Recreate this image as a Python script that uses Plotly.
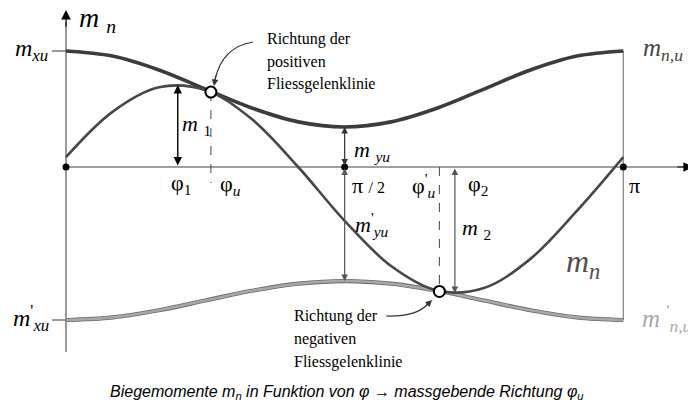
import plotly.graph_objects as go

phi_deg = [0, 15, 30, 45, 60, 75, 90, 105, 120, 135, 150, 165, 180]
m_nu = [1.000, 0.956, 0.836, 0.672, 0.509, 0.389, 0.345, 0.389, 0.509, 0.672, 0.836, 0.956, 1.000]
m_nu_neg = [-1.319, -1.296, -1.235, -1.151, -1.067, -1.006, -0.983, -1.006, -1.067, -1.151, -1.235, -1.296, -1.319]
m_n = [0.085, 0.475, 0.687, 0.664, 0.413, 0.000, -0.464, -0.854, -1.066, -1.043, -0.792, -0.379, 0.085]

m_xu, m_yu = 1.0, 0.345
m_xu_neg, m_yu_neg = -1.319, -0.983
phi_1, m_1 = 36.1, 0.707
phi_2, m_2 = 125.6, -1.086
phi_u, m_u = 46.8, 0.646
phi_u_neg, m_u_neg = 120.6, -1.073

# Seitenpixel -> Daten (nur fuer Beschriftungen); body hat 8px Rand
def X(px):
    return (px - 66) * 180 / 557.3

def Y(py):
    return (167 - py) / 116

SERIF = "serif"
DARK = "#3c3c3c"

fig = go.Figure()
fig.add_trace(go.Scatter(x=phi_deg, y=m_nu_neg, mode="lines", line=dict(color="#6a6a6a", width=4.2, shape="spline")))
fig.add_trace(go.Scatter(x=phi_deg, y=m_nu_neg, mode="lines", line=dict(color="#a8a8a8", width=2.6, shape="spline")))
fig.add_trace(go.Scatter(x=phi_deg, y=m_nu, mode="lines", line=dict(color=DARK, width=3.6, shape="spline")))
fig.add_trace(go.Scatter(x=phi_deg, y=m_n, mode="lines", line=dict(color="#474747", width=2.6, shape="spline")))

shapes = []
def seg(x0, y0, x1, y1, color="#7a7a7a", width=1.3, dash="solid"):
    shapes.append(dict(type="line", x0=x0, y0=y0, x1=x1, y1=y1, xref="x", yref="y",
                       line=dict(color=color, width=width, dash=dash), layer="below"))

# Achsen
seg(0, Y(352), 0, Y(22), color="#555", width=1.2)
seg(0, 0, X(684), 0, color="#808080", width=1.4)
seg(180, m_xu, 180, m_xu_neg, color="#8a8a8a", width=1.3)
seg(X(52), m_xu, 0, m_xu, color="#555", width=1.2)
seg(X(52), m_xu_neg, 0, m_xu_neg, color="#555", width=1.2)
# gestrichelte Richtungen
seg(phi_u, m_u, phi_u, Y(183), color="#444", width=1, dash="dash")
seg(phi_u_neg, 0, phi_u_neg, m_u_neg, color="#444", width=1, dash="dash")

# gebogene Pfeile zu den Kreisen
shapes.append(dict(type="path", xref="x", yref="y",
                   path=f"M {X(253)},{Y(42)} Q {X(222)},{Y(47)} {X(215)},{Y(80)}",
                   line=dict(color="#333", width=1.2)))
shapes.append(dict(type="path", xref="x", yref="y",
                   path=f"M {X(386)},{Y(316)} Q {X(416)},{Y(317)} {X(428)},{Y(304)}",
                   line=dict(color="#333", width=1.2)))

fig.add_trace(go.Scatter(x=[0, 90, 180], y=[0, 0, 0], mode="markers",
                         marker=dict(color="black", size=7)))
fig.add_trace(go.Scatter(x=[phi_u, phi_u_neg], y=[m_u, m_u_neg], mode="markers",
                         marker=dict(color="white", size=11, line=dict(color="black", width=2))))

ann = []
def arrow(x, y, ax, ay, color="black", width=1.3, side="end", size=1.0, head=2):
    ann.append(dict(x=x, y=y, ax=ax, ay=ay, xref="x", yref="y", axref="x", ayref="y",
                    text="", showarrow=True, arrowhead=head, startarrowhead=head,
                    arrowsize=size, startarrowsize=size, arrowwidth=width,
                    arrowcolor=color, arrowside=side, standoff=0, startstandoff=0))

# Achsenpfeile
arrow(0, Y(10), 0, Y(28), color="black", width=1.2, size=1.6)
arrow(X(693), 0, X(676), 0, color="black", width=1.2, size=1.6)
# Wertepfeile
arrow(phi_1, m_1, phi_1, 0, color="black", width=1.4, side="end+start", size=1.2)
arrow(90, m_yu, 90, 0, color="#333", width=1.2, side="end+start", size=1.1)
arrow(90, m_yu_neg, 90, 0, color="#555", width=1.2, side="end+start", size=1.1)
arrow(phi_2, m_2, phi_2, 0, color="#555", width=1.2, side="end+start", size=1.1)
# Pfeilspitzen der gebogenen Pfeile
arrow(X(214), Y(86), X(216), Y(74), color="#333", width=1.2, size=1.1)
arrow(X(432), Y(300), X(425), Y(307), color="#333", width=1.2, size=1.1)

def label(px, py, text, size=20, color="black", family=SERIF, xanchor="center"):
    ann.append(dict(x=X(px), y=Y(py), xref="x", yref="y", text=text, showarrow=False,
                    xanchor=xanchor, yanchor="middle",
                    font=dict(family=family, size=size, color=color)))

label(97, 19, "<i>m</i> <sub><i>n</i></sub>", size=28)
label(31, 50, "<i>m</i><sub><i>xu</i></sub>", size=24)
label(31, 318, "<i>m</i><sup>'</sup><sub><i>xu</i></sub>", size=24)
label(641, 49, "<i>m</i><sub><i>n,u</i></sub>", size=25, color="#444", xanchor="left")
label(640, 318, "<i>m</i> <sup>'</sup><sub><i>n,u</i></sub>", size=25, color="#aaa", xanchor="left")
label(583, 263, "<i>m</i><sub><i>n</i></sub>", size=32, color="#505050")
label(196, 125, "<i>m</i> <sub>1</sub>", size=22)
label(372, 151, "<i>m</i> <sub><i>yu</i></sub>", size=22)
label(372, 224, "<i>m</i><sup>'</sup><sub><i>yu</i></sub>", size=22)
label(476, 229, "<i>m</i> <sub>2</sub>", size=22)
label(181, 184, "φ<sub>1</sub>", size=22)
label(230, 185, "φ<sub><i>u</i></sub>", size=22)
label(368, 185, "π <span style='font-size:16px'>/ 2</span>", size=22)
label(423, 185, "φ<sup>'</sup><sub><i>u</i></sub>", size=22)
label(478, 185, "φ<sub>2</sub>", size=22)
label(634, 185, "π", size=22)
label(686, 187, "φ", size=26, xanchor="left")
for i, line in enumerate(["Richtung der", "positiven", "Fliessgelenklinie"]):
    label(265, 39 + 22.5 * i, line, size=16, xanchor="left")
for i, line in enumerate(["Richtung der", "negativen", "Fliessgelenklinie"]):
    label(292, 316 + 23 * i, line, size=16, xanchor="left")
label(347, 392, "<i>Biegemomente m<sub>n</sub> in Funktion von φ → massgebende Richtung φ<sub>u</sub></i>",
      size=16, family="Liberation Sans")

fig.update_layout(
    width=688, height=400, margin=dict(l=0, r=0, t=0, b=0),
    paper_bgcolor="white", plot_bgcolor="white", showlegend=False,
    shapes=shapes, annotations=ann,
    xaxis=dict(range=[X(8), X(696)], visible=False, fixedrange=True),
    yaxis=dict(range=[Y(408), Y(8)], visible=False, fixedrange=True),
)
fig.write_html("out.html")
